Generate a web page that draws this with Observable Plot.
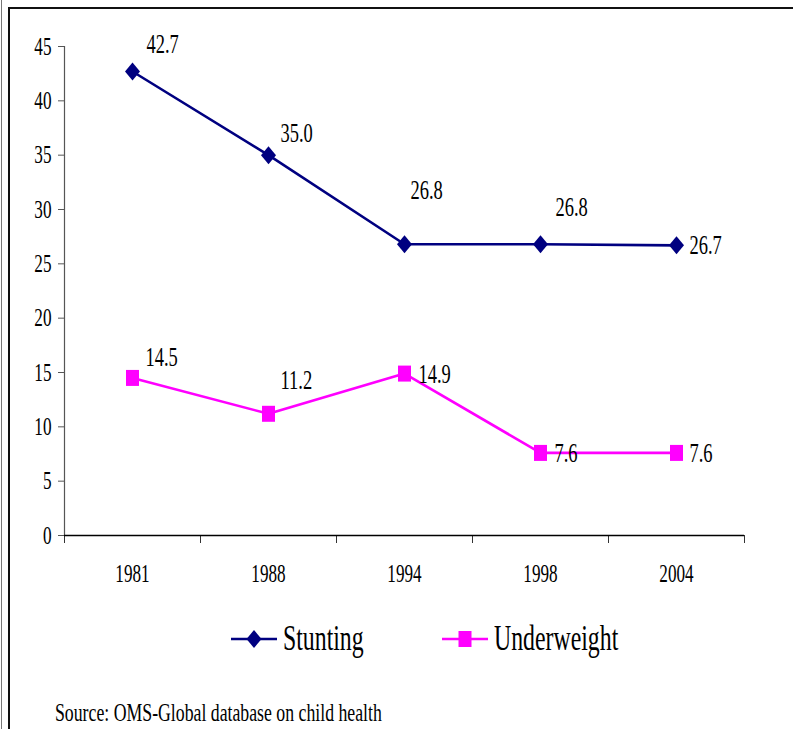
<!DOCTYPE html>
<html>
<head>
<meta charset="utf-8">
<script src="https://cdn.jsdelivr.net/npm/d3@7"></script>
<script src="https://cdn.jsdelivr.net/npm/@observablehq/plot@0.6"></script>
<style>
  html, body { margin: 0; padding: 0; background: #fff; }
  body { width: 793px; height: 729px; position: relative; overflow: hidden; font-family: "Liberation Serif", "Times New Roman", serif; }
  #edge { position: absolute; left: 1px; top: 0; width: 1px; height: 729px; background: #777; }
  #frame { position: absolute; left: 8px; top: 7px; width: 900px; height: 900px; border-left: 2px solid #111; border-top: 2px solid #111; }
  #chart { position: absolute; left: 0; top: 0; }
  .lt { position: absolute; white-space: nowrap; transform-origin: 0 50%; transform: scaleX(0.68); color: #000; font-family: "Liberation Serif", serif; }
  #source { position: absolute; left: 55px; top: 699px; font-size: 25px; white-space: nowrap; transform-origin: 0 0; transform: scaleX(0.71); font-family: "Liberation Serif", serif; }
</style>
</head>
<body>
<div id="edge"></div>
<div id="frame"></div>
<div id="chart"></div>
<div id="legend"></div>
<div id="source">Source: OMS-Global database on child health</div>
<script>
// ---- data ----
const years = ["1981", "1988", "1994", "1998", "2004"];
const stunting = [42.7, 35.0, 26.8, 26.8, 26.7];
const underweight = [14.5, 11.2, 14.9, 7.6, 7.6];
const yTicks = [0, 5, 10, 15, 20, 25, 30, 35, 40, 45];
const seriesNames = ["Stunting", "Underweight"];

// ---- styling / layout ----
const colors = {Stunting: "#000080", Underweight: "#FF00FF"};
// label placement offsets (pixels) relative to each point
const stuntOffsets = [[14, -27], [12, -22], [6, -54], [15, -37], [13, 0]];
const underOffsets = [[13, -21], [12, -34], [14, 0], [14, 0], [13, 0]];

const rows = [];
years.forEach((yr, i) => {
  rows.push({series: "Stunting", i, year: yr, value: stunting[i]});
  rows.push({series: "Underweight", i, year: yr, value: underweight[i]});
});

const diamondSym = {draw(ctx) { const w = 7.5, h = 9; ctx.moveTo(0, -h); ctx.lineTo(w, 0); ctx.lineTo(0, h); ctx.lineTo(-w, 0); ctx.closePath(); }};
const rectSym = {draw(ctx) { const w = 6.5, h = 8; ctx.moveTo(-w, -h); ctx.lineTo(w, -h); ctx.lineTo(w, h); ctx.lineTo(-w, h); ctx.closePath(); }};

const labelMarks = [];
rows.forEach(r => {
  const off = r.series === "Stunting" ? stuntOffsets[r.i] : underOffsets[r.i];
  labelMarks.push(Plot.text([r], {
    x: "i", y: "value", text: d => d.value.toFixed(1),
    dx: off[0], dy: off[1], textAnchor: "start", fontSize: 28, fill: "#000"
  }));
});

const chart = Plot.plot({
  width: 793,
  height: 590,
  marginLeft: 64,
  marginRight: 49,
  marginTop: 46,
  marginBottom: 55,
  style: {fontFamily: "'Liberation Serif', 'Times New Roman', serif", background: "transparent", overflow: "visible"},
  x: {type: "linear", domain: [-0.5, 4.5]},
  y: {domain: [0, 45]},
  marks: [
    Plot.ruleX([-0.5], {y1: 0, y2: 45, stroke: "#555", strokeWidth: 1.2}),
    Plot.axisY({ticks: yTicks, tickSize: 6, tickPadding: 7, fontSize: 26, stroke: "#555", fill: "#000", label: null}),
    Plot.axisX({ticks: [-0.5, 0.5, 1.5, 2.5, 3.5, 4.5], tickSize: 8, tickFormat: () => "", stroke: "#333", label: null}),
    Plot.axisX({ticks: [0, 1, 2, 3, 4], tickSize: 0, tickPadding: 28, fontSize: 26, fill: "#000", tickFormat: i => years[i], label: null}),
    Plot.ruleY([0], {stroke: "#000", strokeWidth: 1.5}),
    Plot.line(rows, {x: "i", y: "value", z: "series", stroke: d => colors[d.series], strokeWidth: 2.6}),
    Plot.dot(rows.filter(d => d.series === "Stunting"), {x: "i", y: "value", symbol: diamondSym, r: 8, fill: colors.Stunting, stroke: null}),
    Plot.dot(rows.filter(d => d.series === "Underweight"), {x: "i", y: "value", symbol: rectSym, r: 8, fill: colors.Underweight, stroke: null}),
    ...labelMarks
  ]
});
document.getElementById("chart").appendChild(chart);

// horizontally condense SVG text (the reference font is narrow)
chart.querySelectorAll("text").forEach(t => {
  t.style.fontFamily = "'Liberation Serif', serif";
  const w = t.getComputedTextLength();
  if (w > 0) { t.setAttribute("textLength", (w * 0.66).toFixed(1)); t.setAttribute("lengthAdjust", "spacingAndGlyphs"); }
});

// ---- legend ----
const legend = d3.select("#legend");
const legendItems = [
  {name: seriesNames[0], x: 231, sym: "diamond"},
  {name: seriesNames[1], x: 442, sym: "rect"}
];
legendItems.forEach(it => {
  const sw = legend.append("svg").attr("width", 48).attr("height", 24)
    .style("position", "absolute").style("left", it.x + "px").style("top", "627px");
  const c = colors[it.name];
  sw.append("line").attr("x1", 0).attr("x2", 46).attr("y1", 12).attr("y2", 12).attr("stroke", c).attr("stroke-width", 2.6);
  if (it.sym === "diamond") sw.append("path").attr("d", "M23,3L30.5,12L23,21L15.5,12Z").attr("fill", c);
  else sw.append("rect").attr("x", 16.5).attr("y", 4).attr("width", 13).attr("height", 16).attr("fill", c);
  legend.append("div").attr("class", "lt").text(it.name)
    .style("left", (it.x + 52) + "px").style("top", "618px").style("font-size", "35px").style("line-height", "42px");
});
</script>
</body>
</html>
